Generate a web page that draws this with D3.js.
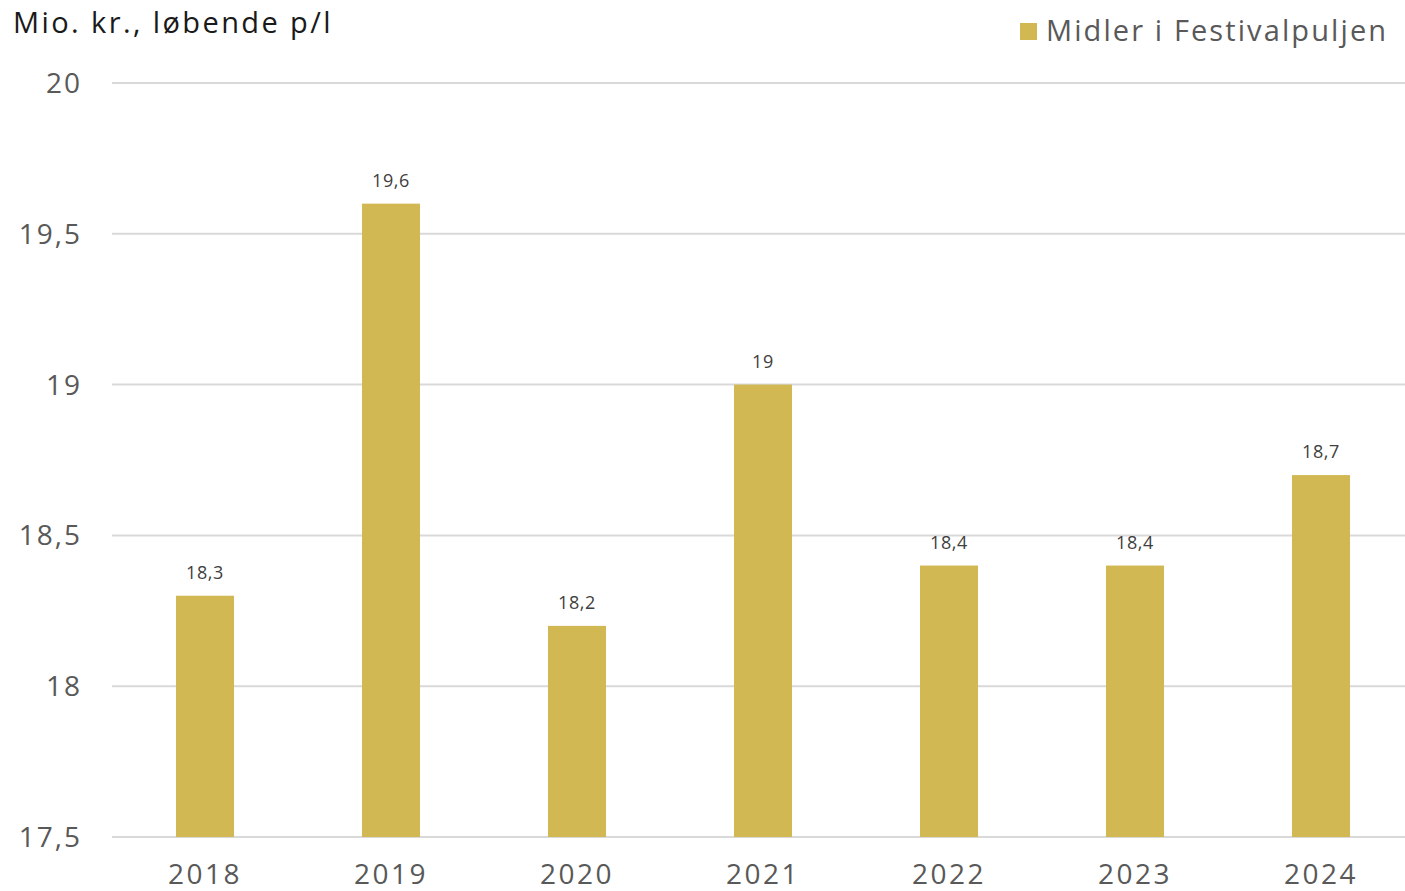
<!DOCTYPE html>
<html>
<head>
<meta charset="utf-8">
<script src="https://cdn.jsdelivr.net/npm/d3@7"></script>
<style>
  body { margin: 0; background: #fff; }
  svg { display: block; font-family: "Open Sans", Lato, sans-serif; }
</style>
</head>
<body>
<div id="chart"></div>
<script>
// Festivalpuljen chart
const years = ["2018", "2019", "2020", "2021", "2022", "2023", "2024"];
const values = [18.3, 19.6, 18.2, 19.0, 18.4, 18.4, 18.7];
const yTicks = [17.5, 18, 18.5, 19, 19.5, 20];
const seriesName = "Midler i Festivalpuljen";
const unitLabel = "Mio. kr., løbende p/l";

(function () {
    const W = 1405, H = 891;
    const barColor = "#D1B853";
    const textColor = "#595959";
    const fmt = v => String(v).replace(".", ",");

    const svg = d3.select("#chart").append("svg")
        .attr("width", W)
        .attr("height", H);

    const x = d3.scaleBand()
        .domain(years)
        .range([112, 1414])
        .paddingInner(0.688)
        .paddingOuter(0.344);

    const y = d3.scaleLinear()
        .domain([17.5, 20])
        .range([837, 83]);

    // gridlines
    svg.append("g")
        .selectAll("line")
        .data(yTicks)
        .enter()
        .append("line")
        .attr("x1", 112)
        .attr("x2", W)
        .attr("y1", d => y(d))
        .attr("y2", d => y(d))
        .attr("stroke", "#d9d9d9")
        .attr("stroke-width", 2);

    // y labels
    svg.append("g")
        .selectAll("text")
        .data(yTicks)
        .enter()
        .append("text")
        .attr("x", 82)
        .attr("y", d => y(d) + 10)
        .attr("text-anchor", "end")
        .attr("font-size", 28)
        .attr("letter-spacing", 2)
        .attr("fill", textColor)
        .text(d => fmt(d));

    // bars
    svg.append("g")
        .selectAll("rect")
        .data(values)
        .enter()
        .append("rect")
        .attr("x", (d, i) => x(years[i]))
        .attr("width", x.bandwidth())
        .attr("y", d => y(d))
        .attr("height", d => y(17.5) - y(d))
        .attr("fill", barColor);

    // value labels
    svg.append("g")
        .selectAll("text")
        .data(values)
        .enter()
        .append("text")
        .attr("x", (d, i) => x(years[i]) + x.bandwidth() / 2)
        .attr("y", d => y(d) - 17)
        .attr("text-anchor", "middle")
        .attr("font-size", 18)
        .attr("letter-spacing", 0.6)
        .attr("fill", "#404040")
        .text(d => fmt(d));

    // x labels (kept just inside the bottom edge)
    svg.append("g")
        .selectAll("text")
        .data(years)
        .enter()
        .append("text")
        .attr("x", d => x(d) + x.bandwidth() / 2)
        .attr("y", 884)
        .attr("text-anchor", "middle")
        .attr("font-size", 28)
        .attr("letter-spacing", 2.5)
        .attr("fill", textColor)
        .text(d => d);

    // unit label
    svg.append("text")
        .attr("x", 13)
        .attr("y", 33)
        .attr("font-size", 29)
        .attr("letter-spacing", 2.4)
        .attr("fill", "#1a1a1a")
        .text(unitLabel);

    // legend
    const legend = svg.append("g");
    legend.append("rect")
        .attr("x", 1020)
        .attr("y", 23)
        .attr("width", 17)
        .attr("height", 17)
        .attr("fill", barColor);
    legend.append("text")
        .attr("x", 1046)
        .attr("y", 41)
        .attr("font-size", 29)
        .attr("letter-spacing", 2.1)
        .attr("fill", textColor)
        .text(seriesName);
})();
</script>
</body>
</html>
